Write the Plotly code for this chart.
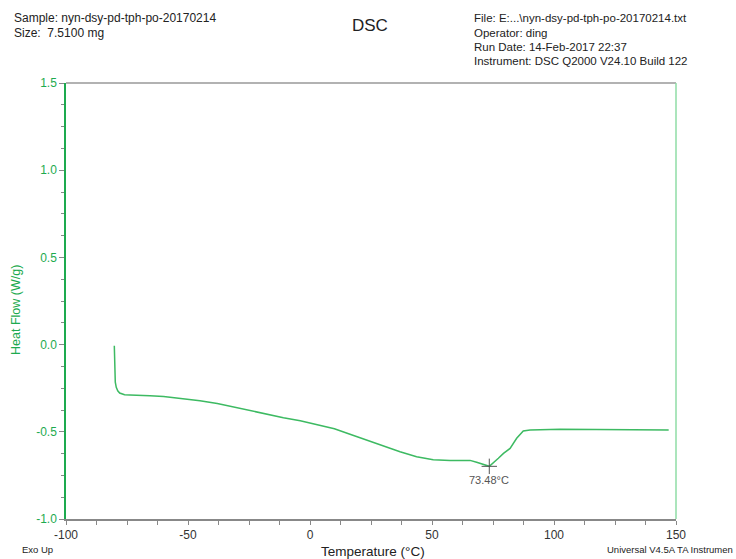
import plotly.graph_objects as go

temp = [-80.2, -80.1, -80.0, -79.8, -79.4, -78.8, -78.0, -77.0, -76.0, -73.8, -69.7, -65.6, -60.0,
        -53.3, -45.1, -38.0, -32.8, -24.6, -17.0, -10.9, -4.0, 2.7, 10.0, 16.4, 23.2,
        30.0, 36.9, 43.7, 50.5, 57.4, 65.6, 68.3, 73.48, 77.2, 79.3, 82.0, 84.7,
        87.4, 90.2, 102.5, 120.0, 135.0, 147.0]
heat_flow = [-0.006, -0.10, -0.184, -0.215, -0.245, -0.265, -0.278, -0.285, -0.288, -0.289,
             -0.290, -0.293, -0.298, -0.308, -0.322, -0.338, -0.354, -0.381, -0.400, -0.419,
             -0.437, -0.457, -0.483, -0.514, -0.547, -0.581, -0.614, -0.643, -0.660, -0.665,
             -0.664, -0.675, -0.698, -0.652, -0.624, -0.595, -0.537, -0.495, -0.490, -0.486,
             -0.486, -0.488, -0.490]
peak_temp = [73.48]
peak_hf = [-0.698]
peak_label = ["73.48°C"]

x_ticks = [-100, -50, 0, 50, 100, 150]
y_ticks = [-1.0, -0.5, 0.0, 0.5, 1.0, 1.5]

GREEN = "#1daa4f"
LINE_GREEN = "#3dba62"
GRAY = "#888888"
FONT = "Liberation Sans, Arial, sans-serif"

fig = go.Figure()
fig.add_trace(go.Scatter(x=temp, y=heat_flow, mode="lines",
                         line=dict(color=LINE_GREEN, width=1.5), hoverinfo="skip"))
fig.add_trace(go.Scatter(x=peak_temp, y=peak_hf, mode="markers",
                         marker=dict(symbol="cross-thin", size=11,
                                     line=dict(color="#555555", width=1)),
                         hoverinfo="skip"))

fig.add_annotation(x=peak_temp[0], y=peak_hf[0], text=peak_label[0], showarrow=False,
                   xanchor="center", yanchor="top", yshift=-6,
                   font=dict(family=FONT, size=11, color="#555555"))

def ann(x, y, text, size=11, color="#222222", xanchor="left", angle=0):
    fig.add_annotation(x=x, y=y, xref="paper", yref="paper", text=text, showarrow=False,
                       xanchor=xanchor, yanchor="middle", textangle=angle,
                       font=dict(family=FONT, size=size, color=color))

L, R, T, B = 66, 676, 83, 519
W, H = R - L, B - T
def px(x): return (x - L) / W
def py(y): return (B - y) / H

ann(px(12), py(18), "Sample: nyn-dsy-pd-tph-po-20170214", size=12)
ann(px(12), py(33), "Size:  7.5100 mg", size=12)
ann(px(370), py(26), "DSC", size=17, xanchor="center")
ann(px(472), py(18), "File: E:...\\nyn-dsy-pd-tph-po-20170214.txt", size=11.5)
ann(px(472), py(33), "Operator: ding", size=11.5)
ann(px(472), py(47), "Run Date: 14-Feb-2017 22:37", size=11.5)
ann(px(472), py(61), "Instrument: DSC Q2000 V24.10 Build 122", size=11.5)
ann(px(20), py(549), "Exo Up", size=9.5)
ann(px(605), py(549), "Universal V4.5A TA Instrumen", size=9.5)
ann(px(373), py(551), "Temperature (°C)", size=13.5, xanchor="center")
ann(px(16), py(310), "Heat Flow (W/g)", size=12.5, color=GREEN, xanchor="center", angle=-90)

# top and right frame lines
fig.add_shape(type="line", xref="paper", yref="paper", x0=0, x1=1, y0=1, y1=1,
              line=dict(color="#999999", width=1.5))
fig.add_shape(type="line", xref="paper", yref="paper", x0=1, x1=1, y0=0, y1=1,
              line=dict(color="#8fdca6", width=1.5))

fig.update_layout(
    width=736, height=559,
    margin=dict(l=L, r=736 - R, t=T, b=559 - B),
    paper_bgcolor="white", plot_bgcolor="white",
    showlegend=False,
    font=dict(family=FONT),
    xaxis=dict(range=[-100, 150], tickvals=x_ticks, ticktext=[str(v) for v in x_ticks],
               showgrid=False, zeroline=False, showline=True, linecolor=GRAY, linewidth=1.5,
               ticks="outside", ticklen=4, tickcolor=GRAY, tickwidth=1,
               minor=dict(dtick=12.5, tick0=0, ticks="outside", ticklen=4, tickcolor=GRAY),
               tickfont=dict(size=12, color="#333333")),
    yaxis=dict(range=[-1.0, 1.5], tickvals=y_ticks, ticktext=["%.1f" % v for v in y_ticks],
               showgrid=False, zeroline=False, showline=True, linecolor=GREEN, linewidth=1.5,
               ticks="outside", ticklen=5, tickcolor=GRAY, tickwidth=1,
               minor=dict(dtick=0.125, tick0=0, ticks="outside", ticklen=3, tickcolor=GRAY),
               tickfont=dict(size=12, color=GREEN)),
)

fig.write_html("out.html")
